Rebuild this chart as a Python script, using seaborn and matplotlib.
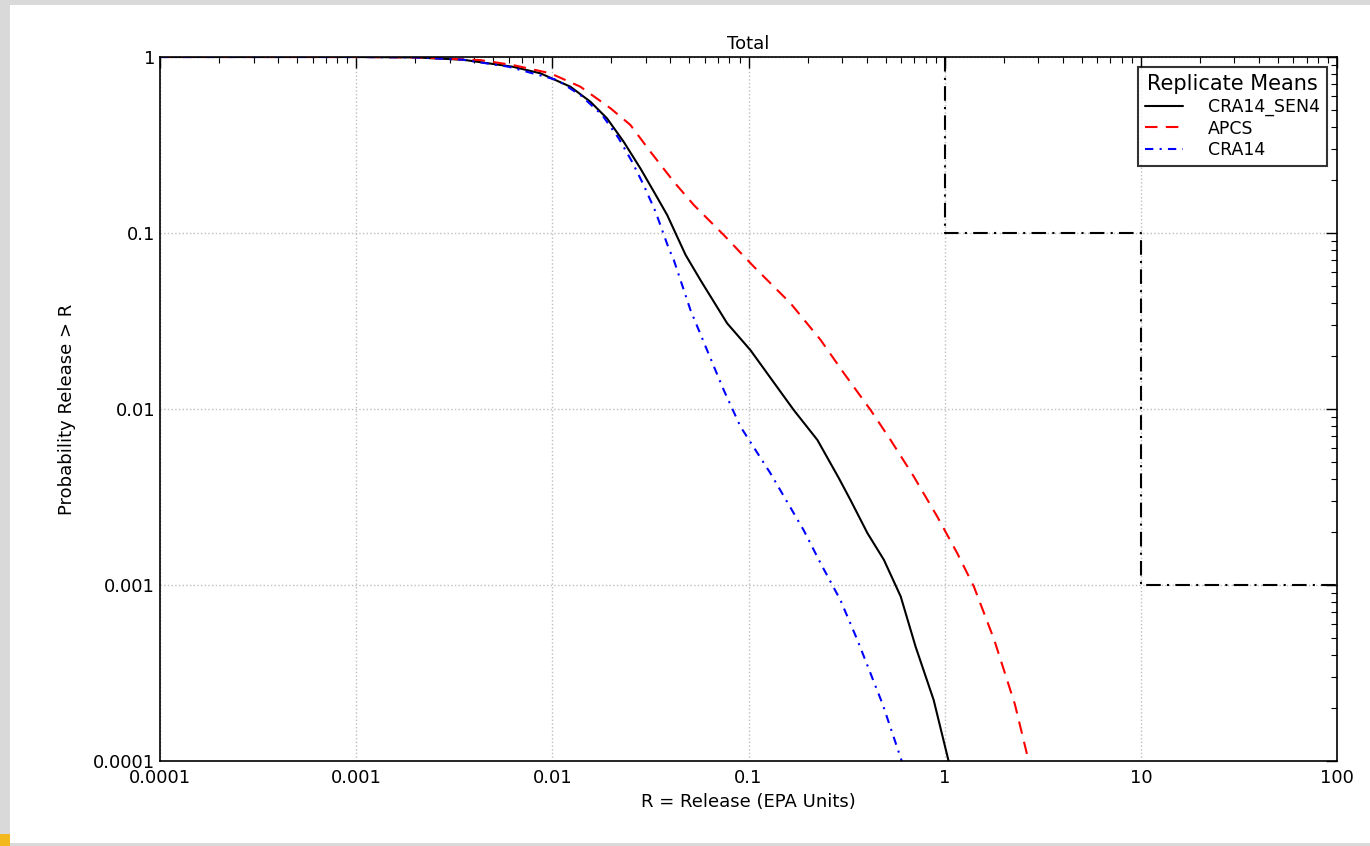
import matplotlib
matplotlib.use("Agg")
import matplotlib.pyplot as plt
import matplotlib.patches as mpatches
import seaborn as sns
import numpy as np
import pandas as pd

# values (log-log exceedance curves)
x_sen4 = [0.0001, 0.001, 0.002, 0.0035, 0.0063, 0.00869, 0.01236, 0.01563, 0.019, 0.0231,
          0.0281, 0.0329, 0.0385, 0.0478, 0.0569, 0.0778, 0.1023, 0.170, 0.2245, 0.289,
          0.331, 0.404, 0.490, 0.597, 0.711, 0.879, 1.047]
y_sen4 = [1.0, 1.0, 0.995, 0.965, 0.88, 0.808, 0.678, 0.557, 0.448, 0.330,
          0.233, 0.172, 0.1265, 0.075, 0.054, 0.0307, 0.0216, 0.00987, 0.00667, 0.00404,
          0.00304, 0.00197, 0.00139, 0.00086, 0.000446, 0.000222, 0.0001]

x_apcs = [0.0001, 0.001, 0.002, 0.0043, 0.0063, 0.00977, 0.0139, 0.0198, 0.025, 0.0316,
          0.0416, 0.0526, 0.0748, 0.1064, 0.1637, 0.233, 0.306, 0.419, 0.530, 0.697,
          0.918, 1.161, 1.41, 1.79, 2.28, 2.68]
y_apcs = [1.0, 1.0, 0.995, 0.96, 0.9, 0.808, 0.678, 0.511, 0.411, 0.290,
          0.1956, 0.1443, 0.0974, 0.0644, 0.0399, 0.0247, 0.0160, 0.00987, 0.00667, 0.00412,
          0.00244, 0.00151, 0.000978, 0.000487, 0.00021, 0.0001]

x_cra14 = [0.0001, 0.001, 0.002, 0.0035, 0.006, 0.01057, 0.0139, 0.01795, 0.0218, 0.0255,
           0.0292, 0.0336, 0.0392, 0.0416, 0.0506, 0.0615, 0.0748, 0.091, 0.1294, 0.191,
           0.233, 0.294, 0.359, 0.483, 0.604]
y_cra14 = [1.0, 1.0, 0.995, 0.965, 0.88, 0.740, 0.608, 0.468, 0.345, 0.254,
           0.1874, 0.132, 0.0818, 0.0703, 0.0365, 0.0216, 0.0128, 0.00794, 0.00431, 0.00205,
           0.00133, 0.000822, 0.000487, 0.00021, 0.0001]

# limit line (step)
x_limit = [1, 1, 10, 10, 100]
y_limit = [1, 0.1, 0.1, 0.001, 0.001]

series_names = ["CRA14_SEN4", "APCS", "CRA14"]
series_colors = {"CRA14_SEN4": "black", "APCS": "red", "CRA14": "blue"}

ticks = [0.0001, 0.001, 0.01, 0.1, 1, 10, 100]
tick_labels = ["0.0001", "0.001", "0.01", "0.1", "1", "10", "100"]
yticks = [0.0001, 0.001, 0.01, 0.1, 1]
ytick_labels = ["0.0001", "0.001", "0.01", "0.1", "1"]

df = pd.concat([
    pd.DataFrame({"R": x_sen4, "P": y_sen4, "series": "CRA14_SEN4"}),
    pd.DataFrame({"R": x_apcs, "P": y_apcs, "series": "APCS"}),
    pd.DataFrame({"R": x_cra14, "P": y_cra14, "series": "CRA14"}),
], ignore_index=True)

sns.set_style("white")
plt.rcParams['font.family'] = ['DejaVu Sans']
plt.rcParams['text.color'] = 'black'
plt.rcParams['axes.labelcolor'] = 'black'
plt.rcParams['xtick.color'] = 'black'
plt.rcParams['ytick.color'] = 'black'

fig = plt.figure(figsize=(13.7, 8.46), dpi=100)
fig.patch.set_facecolor("#d9d9d9")
# white slide area over the grey background
fig.patches.append(mpatches.Rectangle((10 / 1370, 0.004), 1.0, 1 - 0.004 - 5 / 846,
                                      transform=fig.transFigure, facecolor="white",
                                      edgecolor="none", zorder=-10))
fig.patches.append(mpatches.Rectangle((0, 0), 10 / 1370, 12 / 846,
                                      transform=fig.transFigure, facecolor="#f2b81c",
                                      edgecolor="none", zorder=-10))

ax = fig.add_axes([160 / 1370, 1 - 761 / 846, (1337 - 160) / 1370, (761 - 57) / 846])
ax.set_facecolor("white")

sns.lineplot(data=df, x="R", y="P", hue="series", hue_order=series_names,
             palette=series_colors, sort=False, estimator=None, ax=ax,
             linewidth=1.5, legend=False)

# line styles
ax.lines[1].set_dashes((6, 4))
ax.lines[2].set_dashes((4, 3, 1, 3))

ax.plot(x_limit, y_limit, color="black", linewidth=1.5, dashes=(7, 3, 1, 3))

ax.set_xscale("log")
ax.set_yscale("log")
ax.set_xlim(0.0001, 100)
ax.set_ylim(0.0001, 1)
ax.set_xticks(ticks)
ax.set_xticklabels(tick_labels)
ax.set_yticks(yticks)
ax.set_yticklabels(ytick_labels)

ax.tick_params(which="both", direction="in", top=True, right=True, labelsize=13)
ax.tick_params(which="major", length=8, width=1)
ax.tick_params(which="minor", length=4, width=0.8)
ax.tick_params(axis="x", pad=6)
ax.grid(True, which="major", linestyle=":", color="#bdbdbd", linewidth=1)
for sp in ax.spines.values():
    sp.set_color("black")
    sp.set_linewidth(1.2)

ax.set_title("Total", fontsize=13, pad=6)
ax.set_xlabel("R = Release (EPA Units)", fontsize=13, labelpad=4)
ax.set_ylabel("Probability Release > R", fontsize=13, labelpad=12)

handles = ax.lines[:3]
leg = ax.legend(handles, series_names, title="Replicate Means", loc="upper right",
                fontsize=12.5, title_fontsize=15, frameon=True, fancybox=False,
                borderaxespad=0.6, handlelength=2.2, handletextpad=1.4,
                labelspacing=0.2, borderpad=0.4)
leg.get_frame().set_edgecolor("black")
leg.get_frame().set_linewidth(1.5)

fig.savefig("out.png", dpi=100, facecolor=fig.get_facecolor())
